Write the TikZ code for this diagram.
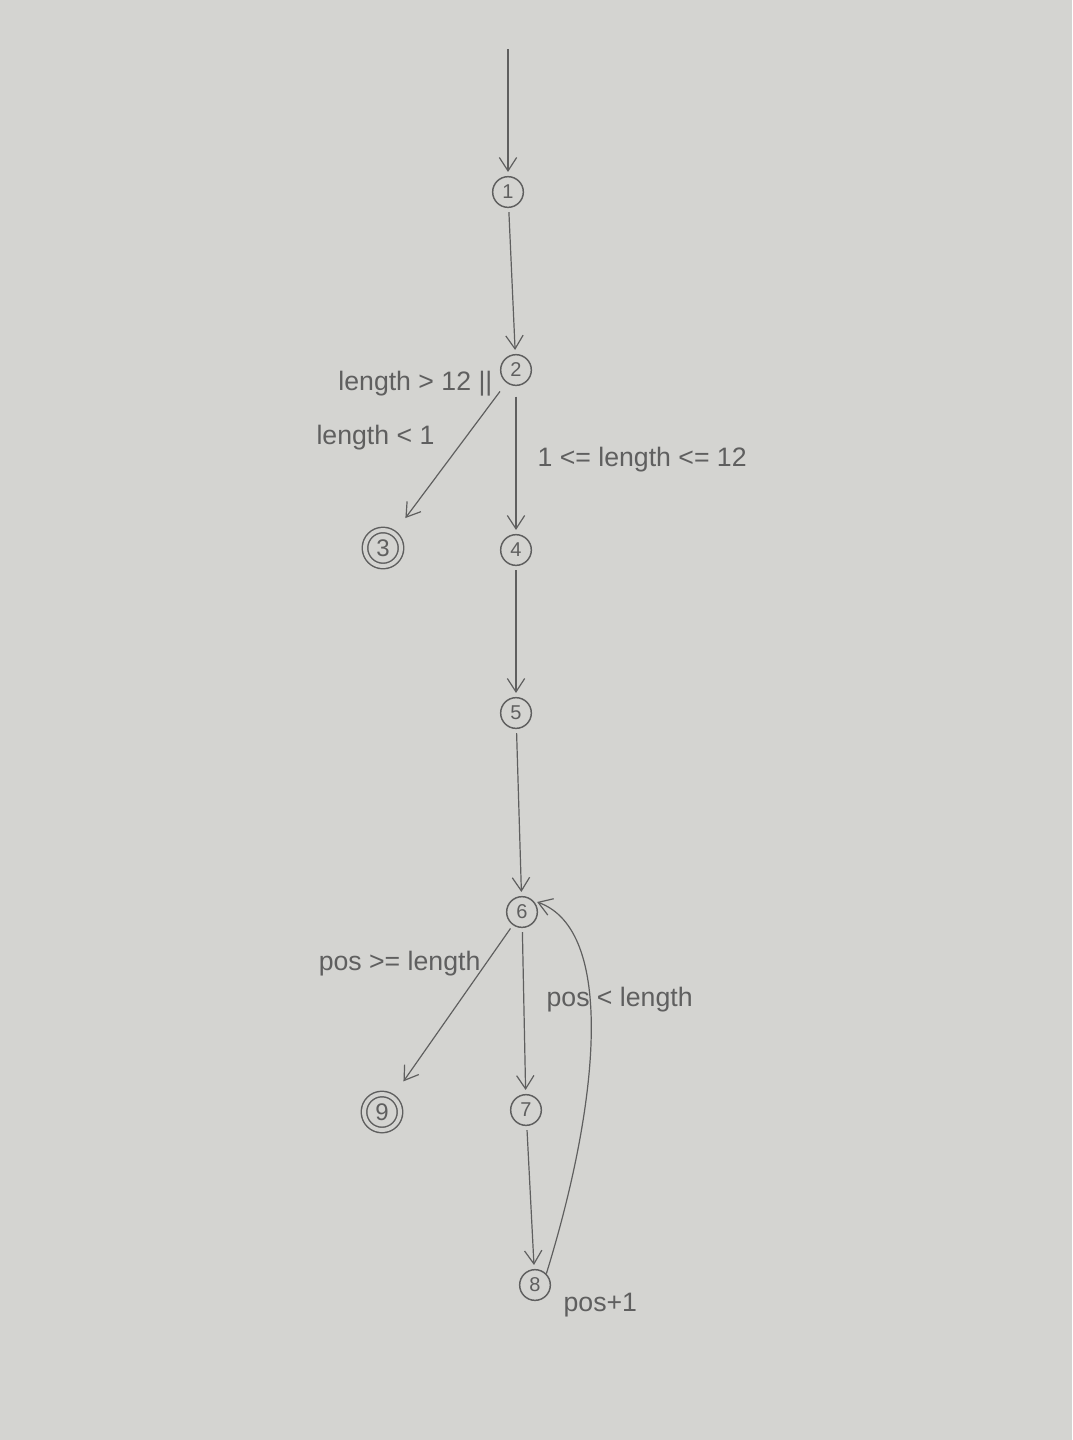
\documentclass[tikz,border=0pt]{standalone}
\usepackage{fontspec}
\setmainfont{Liberation Sans}
\usetikzlibrary{arrows.meta}
\definecolor{paper}{RGB}{212,212,209}
\definecolor{pencil}{RGB}{95,95,95}
\begin{document}
\begin{tikzpicture}[x=0.75pt,y=-0.75pt,
  st/.style={circle,draw=pencil,line width=1.1pt,inner sep=0pt,minimum size=23pt,text=pencil,font=\fontsize{15}{17}\selectfont},
  fin/.style={st,double=paper,double distance=3pt,minimum size=27pt,font=\fontsize{18}{20}\selectfont},
  conn/.style={draw=pencil,line width=0.9pt,shorten >=3pt,shorten <=3pt,-{Straight Barb[length=10pt,width=13pt]}},
  lbl/.style={text=pencil,font=\fontsize{20}{24}\selectfont,inner sep=1pt}]
\fill[paper] (0,0) rectangle (1072,1440);
\useasboundingbox (0,0) rectangle (1072,1440);
\coordinate (start) at (508,45);
\node[st] (n1) at (508,192) {1};
\node[st] (n2) at (516,370) {2};
\node[fin] (n3) at (383,548) {3};
\node[st] (n4) at (516,550) {4};
\node[st] (n5) at (516,713) {5};
\node[st] (n6) at (522,912) {6};
\node[fin] (n9) at (382,1112) {9};
\node[st] (n7) at (526,1110) {7};
\node[st] (n8) at (535,1285) {8};
\draw[conn] (start) -- (n1);
\draw[conn] (n1) -- (n2);
\draw[conn,shorten >=14pt,shorten <=8pt] (n2) -- (n3);
\draw[conn,shorten <=8pt] (n2) -- (n4);
\draw[conn] (n4) -- (n5);
\draw[conn] (n5) -- (n6);
\draw[conn,shorten >=14pt] (n6) -- (n9);
\draw[conn] (n6) -- (n7);
\draw[conn] (n7) -- (n8);
\draw[conn,shorten <=0pt] (n8.north east) .. controls (600,1100) and (615,930) .. (n6.north east);
\node[lbl,anchor=east] (l1) at (494,384) {length > 12 ||};
\node[lbl,anchor=east] (l2) at (436,438) {length < 1};
\node[lbl,anchor=west] (l3) at (536,460) {1 <= length <= 12};
\node[lbl,anchor=east] (l4) at (482,964) {pos >= length};
\node[lbl,anchor=west] (l5) at (545,1000) {pos < length};
\node[lbl,anchor=west] (l6) at (562,1305) {pos+1};
\end{tikzpicture}
\end{document}
